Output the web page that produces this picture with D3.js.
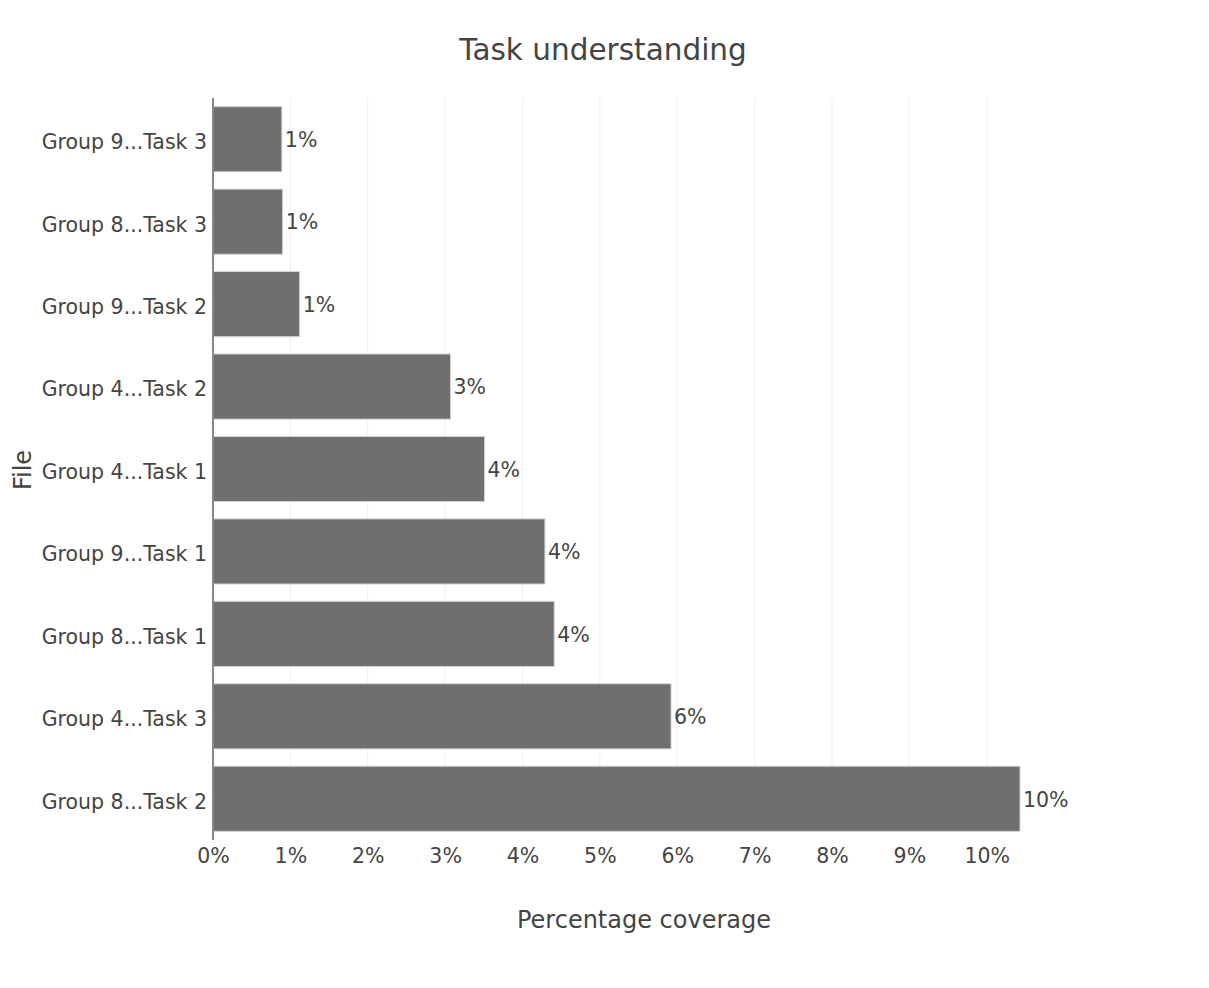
<!DOCTYPE html>
<html>
<head>
<meta charset="utf-8">
<script src="https://cdn.jsdelivr.net/npm/d3@7"></script>
<style>
  html, body { margin: 0; padding: 0; background: #fff; }
  text { font-family: Verdana, "DejaVu Sans", sans-serif; fill: #444; }
</style>
</head>
<body>
<svg id="chart" width="1209" height="988"></svg>
<script>
// Files, top to bottom
const categories = [
  "Group 9...Task 3",
  "Group 8...Task 3",
  "Group 9...Task 2",
  "Group 4...Task 2",
  "Group 4...Task 1",
  "Group 9...Task 1",
  "Group 8...Task 1",
  "Group 4...Task 3",
  "Group 8...Task 2"
];
// Coverage in percent
const coverage = [0.89, 0.90, 1.12, 3.07, 3.51, 4.29, 4.41, 5.92, 10.43];
const xTicks = [0, 1, 2, 3, 4, 5, 6, 7, 8, 9, 10];

const data = categories.map((c, i) => ({ file: c, value: coverage[i] }));

const FONT = "Verdana, 'DejaVu Sans', sans-serif";
const svg = d3.select("#chart");
const plotLeft = 213, plotRight = 1020, plotTop = 98, plotBottom = 840;

const x = d3.scaleLinear().domain([0, d3.max(coverage)]).range([plotLeft, plotRight]);
const y = d3.scaleBand().domain(categories).range([plotTop, plotBottom])
  .paddingInner(0.21).paddingOuter(0.105);

// vertical gridlines
svg.append("g").selectAll("line").data(xTicks.slice(1)).join("line")
  .attr("x1", d => x(d)).attr("x2", d => x(d))
  .attr("y1", plotTop).attr("y2", plotBottom - 8)
  .attr("stroke", "#eeeeee").attr("stroke-width", 1);

// bars
svg.append("g").selectAll("rect").data(data).join("rect")
  .attr("x", x(0))
  .attr("y", d => y(d.file))
  .attr("width", d => x(d.value) - x(0))
  .attr("height", y.bandwidth())
  .attr("fill", "#6f706d")
  .attr("stroke", "#d4d4d4")
  .attr("stroke-width", 1);

// value labels
svg.append("g").selectAll("text").data(data).join("text")
  .attr("x", d => x(d.value) + 3)
  .attr("y", d => y(d.file) + y.bandwidth() / 2)
  .attr("dy", "0.38em")
  .attr("font-size", 20.5)
  .text(d => Math.round(d.value) + "%");

// x axis
const xAxis = svg.append("g").attr("transform", `translate(0,${plotBottom})`)
  .call(d3.axisBottom(x).tickValues(xTicks).tickFormat(d => d + "%").tickSize(0).tickPadding(8));
xAxis.select(".domain").remove();
xAxis.selectAll("text").attr("font-size", 20.5).attr("fill", "#444").style("font-family", FONT);

// y axis
const yAxis = svg.append("g").attr("transform", `translate(${plotLeft},0)`)
  .call(d3.axisLeft(y).tickSize(0).tickPadding(6));
yAxis.select(".domain").remove();
yAxis.selectAll("text").attr("font-size", 20.5).attr("dy", "0.48em").attr("fill", "#444")
  .style("font-family", FONT);

svg.append("line")
  .attr("x1", plotLeft).attr("x2", plotLeft)
  .attr("y1", plotTop).attr("y2", plotBottom)
  .attr("stroke", "#888").attr("stroke-width", 2);

// titles
svg.append("text").attr("x", 603).attr("y", 60).attr("text-anchor", "middle")
  .attr("font-size", 29.5).text("Task understanding");
svg.append("text").attr("x", 644).attr("y", 928).attr("text-anchor", "middle")
  .attr("font-size", 24).text("Percentage coverage");
svg.append("text").attr("transform", "translate(31,470) rotate(-90)").attr("text-anchor", "middle")
  .attr("font-size", 24).text("File");
</script>
</body>
</html>
